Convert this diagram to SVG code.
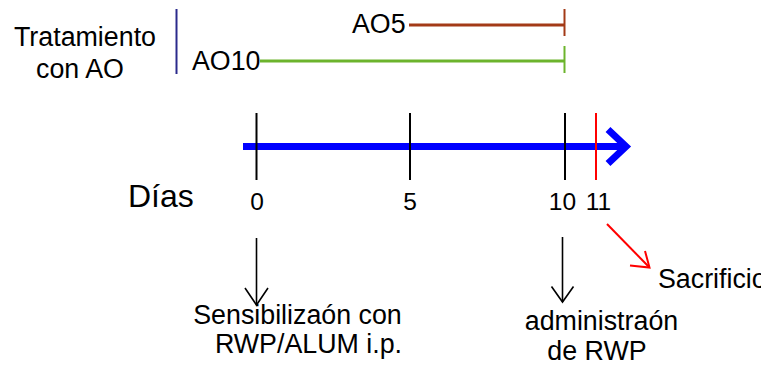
<svg xmlns="http://www.w3.org/2000/svg" width="761" height="367" viewBox="0 0 761 367">
<style>
text{font-family:"Liberation Sans",Arial,sans-serif;fill:#000}
.lbl{font-size:26.8px}
.num{font-size:24.5px;text-anchor:middle}
.tick{stroke:#000;stroke-width:2;fill:none}
.blk{stroke:#000;stroke-width:1.6;fill:none}
.red{stroke:#ff0000;stroke-width:2;fill:none}
</style>
<rect width="761" height="367" fill="#fff"/>
<g id="tratamiento">
<text class="lbl" x="85" y="46" text-anchor="middle">Tratamiento</text>
<text class="lbl" x="80" y="78" text-anchor="middle">con AO</text>
<line x1="176.5" y1="9" x2="176.5" y2="74" stroke="#2b2a8c" stroke-width="2"/>
</g>
<g id="ao5">
<text class="lbl" x="352" y="33">AO5</text>
<line x1="409" y1="25" x2="564" y2="25" stroke="#a33a17" stroke-width="3"/>
<line x1="564.5" y1="9" x2="564.5" y2="36" stroke="#a33a17" stroke-width="2"/>
</g>
<g id="ao10">
<text class="lbl" x="192" y="70">AO10</text>
<line x1="260" y1="61" x2="564" y2="61" stroke="#6cb42c" stroke-width="3"/>
<line x1="564.5" y1="46" x2="564.5" y2="73" stroke="#6cb42c" stroke-width="2"/>
</g>
<g id="timeline">
<line x1="243" y1="146.5" x2="626" y2="146.5" stroke="#0000ff" stroke-width="7"/>
<polyline points="608,129.5 626,146.5 608,163.5" stroke="#0000ff" stroke-width="7" fill="none"/>
<line class="tick" x1="256.5" y1="113" x2="256.5" y2="180"/>
<line class="tick" x1="410" y1="113" x2="410" y2="180"/>
<line class="tick" x1="565" y1="113" x2="565" y2="180"/>
<line class="red" x1="596" y1="113" x2="596" y2="180"/>
<text x="128" y="207" style="font-size:32px">Días</text>
<text class="num" x="257" y="210">0</text>
<text class="num" x="410" y="210">5</text>
<text class="num" x="562.5" y="210">10</text>
<text class="num" x="598.5" y="210">11</text>
</g>
<g id="connectors">
<line class="blk" x1="256.5" y1="238" x2="256.5" y2="305"/>
<polyline class="blk" points="245,288 256.5,305 268,288"/>
<line class="blk" x1="562.5" y1="237" x2="562.5" y2="302"/>
<polyline class="blk" points="551.5,286.5 562.5,302 573.5,286.5"/>
<line class="red" x1="607" y1="224" x2="649" y2="267"/>
<polyline class="red" points="645,251 649.5,267.5 630,265.5"/>
</g>
<g id="sensibilizacion">
<text class="lbl" x="297.5" y="324" text-anchor="middle">Sensibilizaón con</text>
<text class="lbl" x="308.5" y="353" text-anchor="middle">RWP/ALUM i.p.</text>
</g>
<g id="administracion">
<text class="lbl" x="601.5" y="330" text-anchor="middle">administraón</text>
<text class="lbl" x="597" y="360" text-anchor="middle">de RWP</text>
</g>
<g id="sacrificio">
<text class="lbl" x="658" y="288">Sacrificio</text>
</g>
</svg>
